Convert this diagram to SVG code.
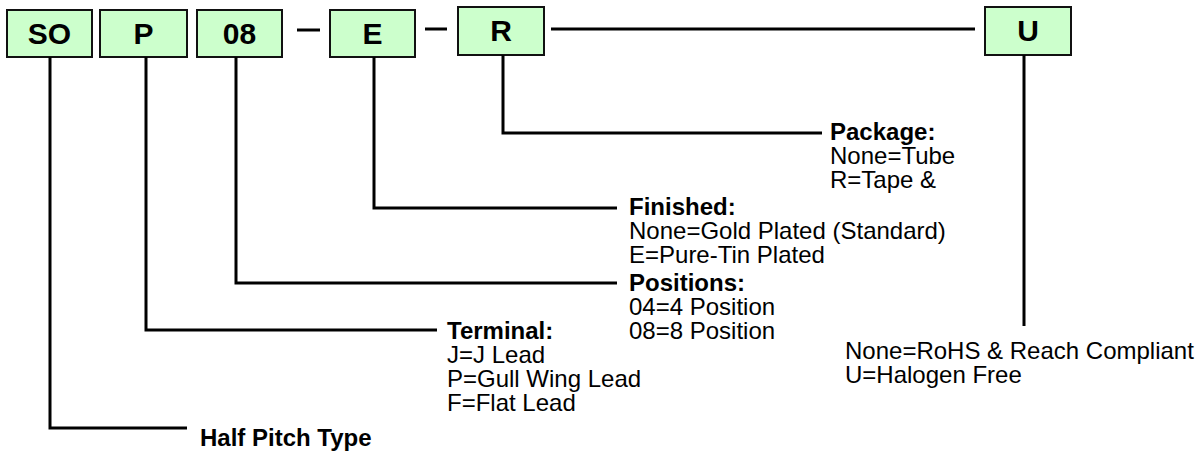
<svg xmlns="http://www.w3.org/2000/svg" width="1197" height="451" viewBox="0 0 1197 451">
<style>
.box{fill:#ccffcc;stroke:#111;stroke-width:2}
.bt{font-family:"Liberation Sans",Arial,sans-serif;font-weight:bold;font-size:30px;fill:#000;text-anchor:middle}
.ln{stroke:#000;stroke-width:3;fill:none}
.t{font-family:"Liberation Sans",Arial,sans-serif;font-size:24px;fill:#000}
.b{font-weight:bold}
</style>
<rect width="1197" height="451" fill="#fff"/>
<g id="node-SO"><rect class="box" x="7" y="10" width="85" height="47"/><text class="bt" x="49.5" y="44">SO</text></g>
<g id="node-P"><rect class="box" x="100" y="10" width="87" height="47"/><text class="bt" x="143.5" y="44">P</text></g>
<g id="node-08"><rect class="box" x="197" y="10" width="85" height="47"/><text class="bt" x="239.5" y="44">08</text></g>
<g id="node-E"><rect class="box" x="330" y="10" width="85" height="47"/><text class="bt" x="372.5" y="44">E</text></g>
<g id="node-R"><rect class="box" x="458" y="7" width="86" height="48"/><text class="bt" x="501" y="41">R</text></g>
<g id="node-U"><rect class="box" x="985" y="7" width="86" height="48"/><text class="bt" x="1028" y="41">U</text></g>
<g id="connectors">
<path class="ln" d="M297 30H320"/>
<path class="ln" d="M425 29H447"/>
<path class="ln" d="M551 29H975"/>
<path class="ln" d="M50 57V428H187"/>
<path class="ln" d="M146 57V330H437"/>
<path class="ln" d="M236 57V283H617"/>
<path class="ln" d="M374 57V208H617"/>
<path class="ln" d="M503 55V133H822"/>
<path class="ln" d="M1024 55V326"/>
</g>
<g id="label-half"><text class="t b" x="200" y="446">Half Pitch Type</text></g>
<g id="label-terminal"><text class="t b" x="447" y="339">Terminal:</text><text class="t" x="447" y="363">J=J Lead</text><text class="t" x="447" y="387">P=Gull Wing Lead</text><text class="t" x="447" y="411">F=Flat Lead</text></g>
<g id="label-positions"><text class="t b" x="629" y="291">Positions:</text><text class="t" x="629" y="315">04=4 Position</text><text class="t" x="629" y="339">08=8 Position</text></g>
<g id="label-finished"><text class="t b" x="629" y="215">Finished:</text><text class="t" x="629" y="239">None=Gold Plated (Standard)</text><text class="t" x="629" y="263">E=Pure-Tin Plated</text></g>
<g id="label-package"><text class="t b" x="830" y="140">Package:</text><text class="t" x="830" y="164">None=Tube</text><text class="t" x="830" y="188">R=Tape &amp;</text></g>
<g id="label-u"><text class="t" x="845" y="359">None=RoHS &amp; Reach Compliant</text><text class="t" x="845" y="383">U=Halogen Free</text></g>
</svg>
